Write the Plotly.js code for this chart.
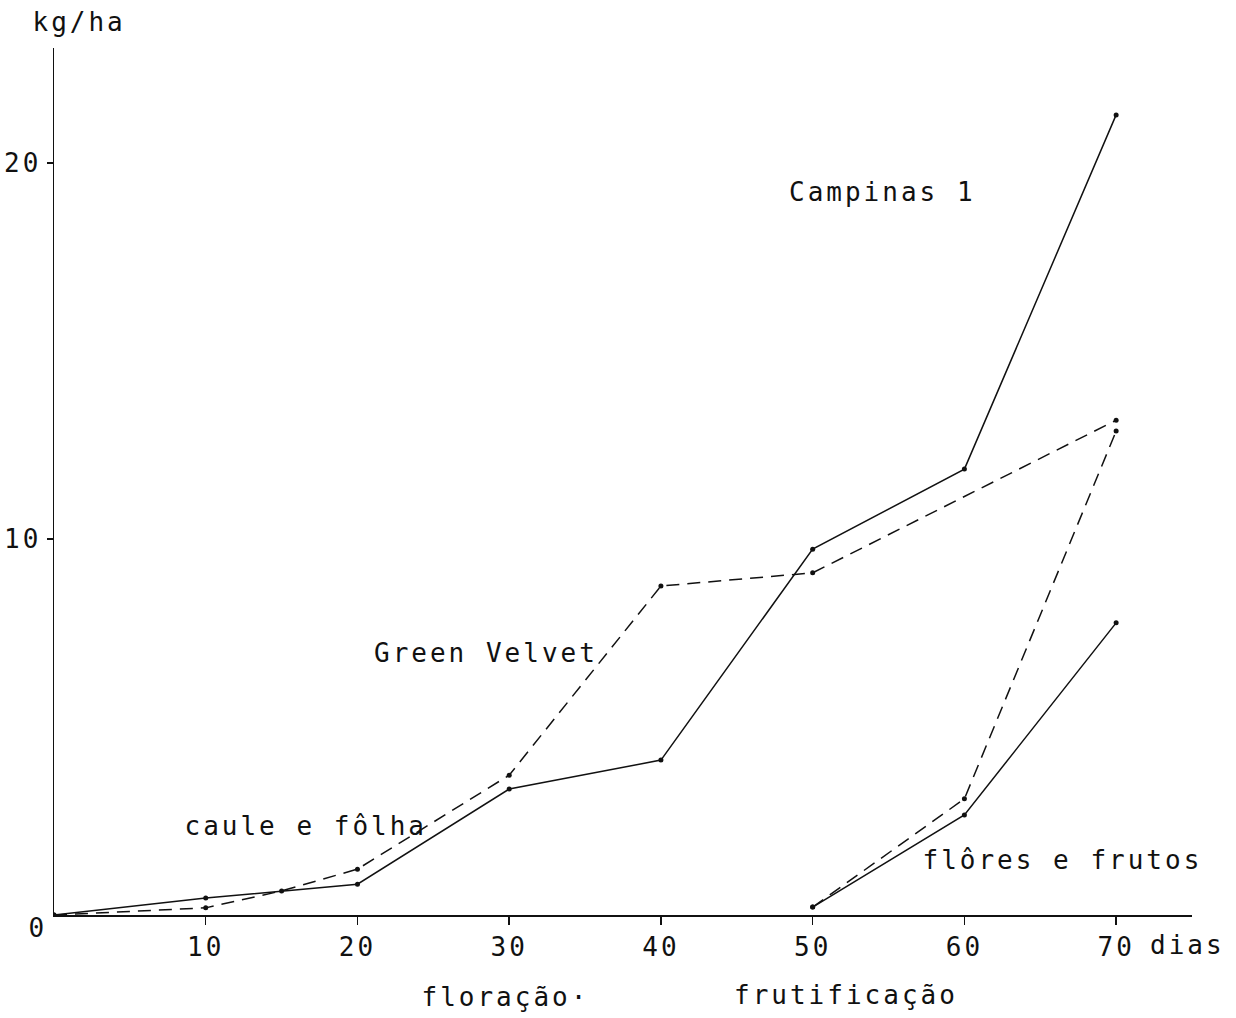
<!DOCTYPE html>
<html>
<head>
<meta charset="utf-8">
<script src="https://cdn.plot.ly/plotly-3.0.1.min.js"></script>
<style>
  html, body { margin: 0; padding: 0; background: #fff; }
  #chart text { letter-spacing: 3px; }
</style>
</head>
<body>
<div id="chart" style="width:1236px;height:1018px;"></div>
<script>
// Days after emergence
const campinasCauleDias = [0, 10, 20, 30, 40, 50, 60, 70];
const campinasCaule     = [0, 0.45, 0.82, 3.35, 4.12, 9.73, 11.86, 21.28];

const greenCauleDias = [0, 10, 15, 20, 30, 40, 50, 70];
const greenCaule     = [0, 0.19, 0.64, 1.22, 3.72, 8.75, 9.1, 13.16];

const campinasFloresDias = [50, 60, 70];
const campinasFlores     = [0.21, 2.66, 7.77];

const greenFloresDias = [50, 60, 70];
const greenFlores     = [0.21, 3.09, 12.87];

const xTicks = [10, 20, 30, 40, 50, 60, 70];
const xTickLabels = ['10', '20', '30', '40', '50', '60', '70'];
const yTicks = [10, 20];
const yTickLabels = ['10', '20'];

const FONT = 'DejaVu Sans Mono, monospace';
const solid = {color: '#111', width: 1.5, dash: 'solid'};
const dashed = {color: '#111', width: 1.5, dash: '13px,8px'};
const mk = {color: '#111', size: 5};

const traces = [
  {x: campinasCauleDias, y: campinasCaule, mode: 'lines+markers', line: solid, marker: mk, name: 'Campinas 1 - caule e fôlha'},
  {x: greenCauleDias, y: greenCaule, mode: 'lines+markers', line: dashed, marker: mk, name: 'Green Velvet - caule e fôlha'},
  {x: campinasFloresDias, y: campinasFlores, mode: 'lines+markers', line: solid, marker: mk, name: 'Campinas 1 - flôres e frutos'},
  {x: greenFloresDias, y: greenFlores, mode: 'lines+markers', line: dashed, marker: mk, name: 'Green Velvet - flôres e frutos'}
];

const W = 1236, H = 1018;
const L = 54, R = 44, T = 48, B = 103;
function px(x) { return (x - L) / (W - L - R); }
function py(y) { return (H - B - y) / (H - T - B); }
function ann(text, x, y) {
  return {text: text, xref: 'paper', yref: 'paper', x: px(x), y: py(y),
          xanchor: 'center', yanchor: 'middle', showarrow: false,
          font: {family: FONT, size: 26, color: '#111'}};
}

const layout = {
  width: W, height: H,
  margin: {l: L, r: R, t: T, b: B},
  paper_bgcolor: '#fff', plot_bgcolor: '#fff',
  showlegend: false,
  font: {family: FONT, size: 26, color: '#111'},
  xaxis: {
    range: [0, 75], showgrid: false, zeroline: false,
    showline: true, linecolor: '#111', linewidth: 1.5,
    tickmode: 'array', tickvals: xTicks, ticktext: xTickLabels,
    ticks: 'outside', ticklen: 8, tickcolor: '#111', tickwidth: 1.5,
    tickfont: {family: FONT, size: 26, color: '#111'}
  },
  yaxis: {
    range: [0, 23.06], showgrid: false, zeroline: false,
    showline: true, linecolor: '#111', linewidth: 1.5,
    tickmode: 'array', tickvals: yTicks, ticktext: yTickLabels,
    ticks: 'outside', ticklen: 6, tickcolor: '#111', tickwidth: 1.5,
    tickfont: {family: FONT, size: 26, color: '#111'}
  },
  annotations: [
    ann('kg/ha', 79, 22),
    ann('0', 38, 928),
    ann('dias', 1187, 945),
    ann('floração·', 505, 997),
    ann('frutificação', 846, 995),
    ann('Campinas 1', 882, 192),
    ann('Green Velvet', 486, 653),
    ann('caule e fôlha', 306, 826),
    ann('flôres e frutos', 1062, 860)
  ]
};

Plotly.newPlot('chart', traces, layout, {displayModeBar: false, staticPlot: true});
</script>
</body>
</html>
